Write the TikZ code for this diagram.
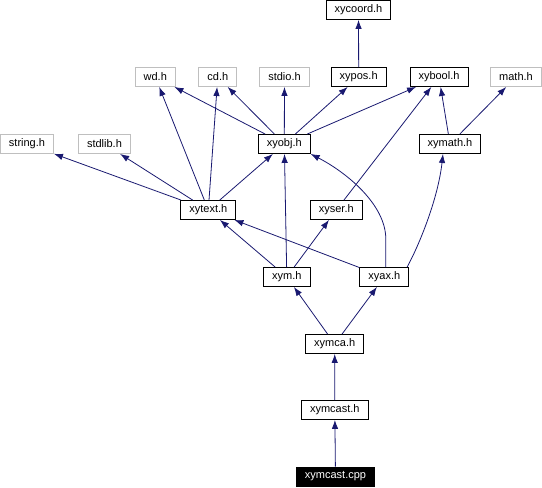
\documentclass[tikz,border=0pt]{standalone}
\usepackage{fontspec}
\setmainfont{Liberation Sans}
\usetikzlibrary{arrows.meta}
\definecolor{edgeblue}{HTML}{191970}
\definecolor{sysgray}{HTML}{BFBFBF}

\begin{document}
\begin{tikzpicture}[x=1pt,y=1pt,
    hdr/.style={draw=black,line width=0.9pt,minimum height=19pt,inner xsep=8.5pt,inner ysep=0pt,font=\fontsize{11}{13}\selectfont},
    sys/.style={hdr,draw=sysgray},
    src/.style={hdr,fill=black,text=white},
    inc/.style={-{Latex[length=9pt,width=6.5pt]},edgeblue,line width=0.8pt}]
    \useasboundingbox (0,0) rectangle (542,-488);
    % headers
    \node[hdr] (xycoord) at (358.5,-10) {xycoord.h};
    \node[sys] (wd) at (155.3,-77) {wd.h};
    \node[sys] (cd) at (217.8,-77) {cd.h};
    \node[sys] (stdio) at (284.5,-77) {stdio.h};
    \node[hdr] (xypos) at (358.7,-77) {xypos.h};
    \node[hdr] (xybool) at (439,-77) {xybool.h};
    \node[sys] (math) at (516,-77) {math.h};
    \node[sys] (string) at (27,-144) {string.h};
    \node[sys] (stdlib) at (104.5,-144) {stdlib.h};
    \node[hdr] (xyobj) at (284.3,-144) {xyobj.h};
    \node[hdr] (xymath) at (450,-144) {xymath.h};
    \node[hdr] (xytext) at (208.3,-210) {xytext.h};
    \node[hdr] (xyser) at (336.3,-210) {xyser.h};
    \node[hdr] (xym) at (286.8,-277) {xym.h};
    \node[hdr] (xyax) at (384.3,-277) {xyax.h};
    \node[hdr] (xymca) at (334.7,-344) {xymca.h};
    \node[hdr] (xymcast) at (334.8,-410) {xymcast.h};
    \node[src] (cpp) at (335.5,-476.5) {xymcast.cpp};
    % includes
    \draw[inc] (cpp) -- (xymcast);
    \draw[inc] (xymcast) -- (xymca);
    \draw[inc] (xymca) -- (xym);
    \draw[inc] (xymca) -- (xyax);
    \draw[inc] (xym) -- (xytext);
    \draw[inc] (xym) -- (xyser);
    \draw[inc] (xym) -- (xyobj);
    \draw[inc] (xyax) -- (xytext);
    \draw[inc] ([xshift=1.5pt]xyax.north) -- ++(0,28) .. controls +(0,35) and +(35,-18) .. (xyobj.south east);
    \draw[inc] ([xshift=-2pt]xyax.north east) .. controls +(12,22) and +(-5,-45) .. ([xshift=-7pt]xymath.south);
    \draw[inc] (xyser) -- (xybool);
    \draw[inc] (xytext) -- (string);
    \draw[inc] (xytext) -- (stdlib);
    \draw[inc] (xytext) -- (wd);
    \draw[inc] (xytext) -- (cd);
    \draw[inc] (xytext) -- (xyobj);
    \draw[inc] (xyobj) -- (wd);
    \draw[inc] (xyobj) -- (cd);
    \draw[inc] (xyobj) -- (stdio);
    \draw[inc] (xyobj) -- (xypos);
    \draw[inc] (xyobj) -- (xybool);
    \draw[inc] (xymath) -- (xybool);
    \draw[inc] (xymath) -- (math);
    \draw[inc] (xypos) -- (xycoord);
\end{tikzpicture}
\end{document}
